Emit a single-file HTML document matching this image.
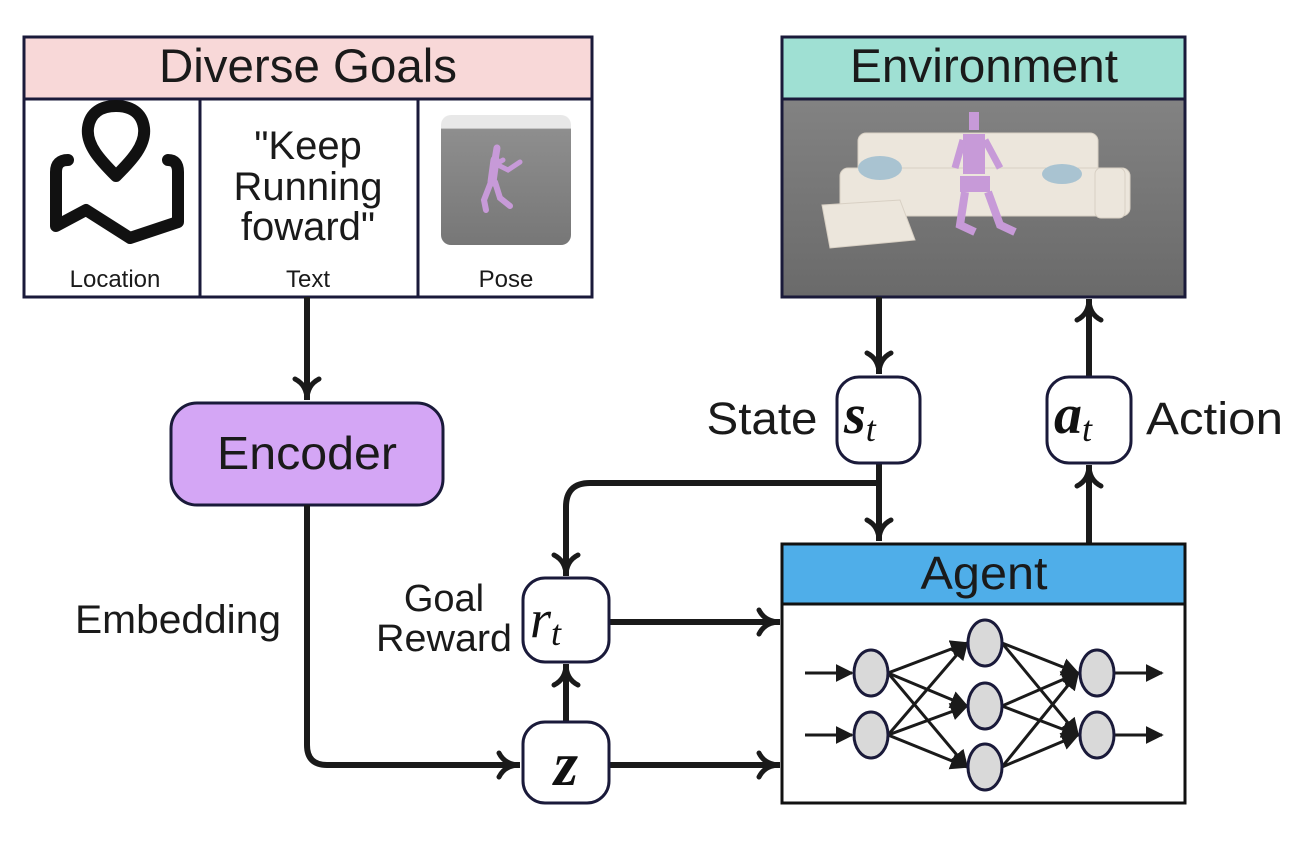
<!DOCTYPE html>
<html><head><meta charset="utf-8"><style>
body{margin:0;background:#fff;}
svg{display:block;font-family:"Liberation Sans",sans-serif;}
</style></head><body>
<svg width="1304" height="846" viewBox="0 0 1304 846" xmlns="http://www.w3.org/2000/svg">
<defs>
<marker id="ah" viewBox="0 0 30 30" refX="27" refY="15" markerWidth="30" markerHeight="30" markerUnits="userSpaceOnUse" orient="auto">
<path d="M6,3 Q12,15 27,15 Q12,15 6,27" fill="none" stroke="#1a1a1a" stroke-width="5" stroke-linecap="round"/>
</marker>
<marker id="tri" viewBox="0 0 10 10" refX="9" refY="5" markerWidth="18" markerHeight="18" markerUnits="userSpaceOnUse" orient="auto">
<path d="M0,0 L10,5 L0,10 z" fill="#1a1a1a"/>
</marker>
<linearGradient id="floor" x1="0" y1="0" x2="0" y2="1">
<stop offset="0" stop-color="#8a8a8a"/><stop offset="1" stop-color="#6a6a6a"/>
</linearGradient>
<linearGradient id="floor2" x1="0" y1="0" x2="0" y2="1">
<stop offset="0" stop-color="#e8e8e8"/><stop offset="0.1" stop-color="#e8e8e8"/><stop offset="0.11" stop-color="#8e8e8e"/><stop offset="1" stop-color="#777"/>
</linearGradient>
</defs>

<!-- Diverse Goals -->
<rect x="24" y="37" width="568" height="260" fill="#fff" stroke="#1a1a3a" stroke-width="3"/>
<rect x="25.5" y="38.5" width="565" height="60" fill="#f8d8d8"/>
<line x1="24" y1="99" x2="592" y2="99" stroke="#1a1a3a" stroke-width="3"/>
<line x1="200" y1="99" x2="200" y2="297" stroke="#1a1a3a" stroke-width="3"/>
<line x1="418" y1="99" x2="418" y2="297" stroke="#1a1a3a" stroke-width="3"/>
<text x="308" y="82" font-size="47" text-anchor="middle" fill="#1a1a1a" textLength="298" lengthAdjust="spacingAndGlyphs">Diverse Goals</text>
<text x="115" y="287" font-size="24" text-anchor="middle" fill="#1a1a1a">Location</text>
<text x="308" y="287" font-size="24" text-anchor="middle" fill="#1a1a1a">Text</text>
<text x="506" y="287" font-size="24" text-anchor="middle" fill="#1a1a1a">Pose</text>
<text font-size="40" text-anchor="middle" fill="#1a1a1a"><tspan x="308" y="159">"Keep</tspan><tspan x="308" y="200">Running</tspan><tspan x="308" y="240">foward"</tspan></text>
<!-- location icon -->
<g fill="none" stroke="#111" stroke-width="12" stroke-linecap="round" stroke-linejoin="round">
<path d="M116,176 C100,160 86,145 88,128 C90,112 102,106 116,106 C130,106 142,112 144,128 C146,145 132,160 116,176 Z"/>
<path d="M68,160 Q56,160 56,172 L56,226 L86,210 L130,238 L178,222 L178,172 Q178,160 168,160"/>
</g>
<!-- pose image -->
<rect x="441" y="115" width="130" height="130" rx="10" fill="url(#floor2)"/>
<g stroke="#c79ad8" fill="none" stroke-linecap="round">
<path d="M497,148 L495,160" stroke-width="7"/>
<path d="M495,160 L492,182" stroke-width="9"/>
<path d="M496,164 L508,170 L520,162" stroke-width="5"/>
<path d="M493,166 L503,160" stroke-width="5"/>
<path d="M491,182 L484,200 L486,210" stroke-width="6"/>
<path d="M495,182 L500,198 L510,206" stroke-width="6"/>
</g>

<!-- Environment -->
<rect x="782" y="37" width="403" height="260" fill="url(#floor)" stroke="#1a1a3a" stroke-width="3"/>
<rect x="783.5" y="38.5" width="400" height="60" fill="#9fe0d3"/>
<line x1="782" y1="99" x2="1185" y2="99" stroke="#1a1a3a" stroke-width="3"/>
<text x="984" y="82" font-size="47" text-anchor="middle" fill="#1a1a1a" textLength="268" lengthAdjust="spacingAndGlyphs">Environment</text>
<!-- sofa -->
<g fill="#ece6dc" stroke="#d8d0c4" stroke-width="1">
<rect x="858" y="133" width="240" height="55" rx="8"/>
<rect x="840" y="168" width="290" height="48" rx="8"/>
<path d="M822,205 L900,200 L915,240 L830,248 Z"/>
<rect x="1095" y="168" width="30" height="50" rx="6"/>
</g>
<ellipse cx="880" cy="168" rx="22" ry="12" fill="#a9c3d1"/>
<ellipse cx="1062" cy="174" rx="20" ry="10" fill="#a9c3d1"/>
<g fill="#c79ad8">
<rect x="969" y="112" width="10" height="18"/>
<rect x="963" y="134" width="22" height="40"/>
<rect x="960" y="176" width="30" height="16"/>
<path d="M965,192 L960,225 L975,232" stroke="#c79ad8" stroke-width="8" fill="none"/>
<path d="M988,192 L1000,225 L1015,232" stroke="#c79ad8" stroke-width="8" fill="none"/>
<path d="M963,140 L955,168" stroke="#c79ad8" stroke-width="7"/>
<path d="M985,140 L1000,168" stroke="#c79ad8" stroke-width="7"/>
</g>

<!-- Encoder -->
<rect x="171" y="403" width="272" height="102" rx="26" fill="#d4a6f5" stroke="#1a1a3a" stroke-width="3"/>
<text x="307" y="469" font-size="46" text-anchor="middle" fill="#1a1a1a" textLength="180" lengthAdjust="spacingAndGlyphs">Encoder</text>
<text x="178" y="633" font-size="40" text-anchor="middle" fill="#1a1a1a" textLength="206" lengthAdjust="spacingAndGlyphs">Embedding</text>

<!-- connectors -->
<g stroke="#1a1a1a" stroke-width="6" fill="none">
<path d="M307,297 L307,400" marker-end="url(#ah)"/>
<path d="M307,505 L307,745 Q307,765 327,765 L520,765" marker-end="url(#ah)"/>
<path d="M610,765 L780,765" marker-end="url(#ah)"/>
<path d="M610,622 L780,622" marker-end="url(#ah)"/>
<path d="M566,722 L566,664" marker-end="url(#ah)"/>
<path d="M879,297 L879,374" marker-end="url(#ah)"/>
<path d="M879,463 L879,541" marker-end="url(#ah)"/>
<path d="M879,483 L590,483 Q566,483 566,507 L566,576" marker-end="url(#ah)"/>
<path d="M1089,543 L1089,465" marker-end="url(#ah)"/>
<path d="M1089,376 L1089,299" marker-end="url(#ah)"/>
</g>

<!-- small boxes -->
<g fill="#fff" stroke="#1a1a3a" stroke-width="3">
<rect x="523" y="578" width="86" height="84" rx="22"/>
<rect x="523" y="722" width="86" height="81" rx="22"/>
<rect x="837" y="377" width="83" height="86" rx="22"/>
<rect x="1047" y="377" width="84" height="86" rx="22"/>
</g>
<g font-family="'Liberation Serif',serif" fill="#111">
<text x="530" y="637" font-size="54" font-style="italic">r<tspan font-size="36" dy="8">t</tspan></text>
<text x="566" y="785" font-size="62" font-style="italic" font-weight="bold" text-anchor="middle">z</text>
<text x="844" y="433" font-size="56" font-style="italic" font-weight="bold">s<tspan font-size="36" font-weight="normal" dy="8">t</tspan></text>
<text x="1054" y="433" font-size="56" font-style="italic" font-weight="bold">a<tspan font-size="36" font-weight="normal" dy="8">t</tspan></text>
</g>
<text x="762" y="434" font-size="45" text-anchor="middle" fill="#1a1a1a" textLength="111" lengthAdjust="spacingAndGlyphs">State</text>
<text x="1146" y="434" font-size="45" fill="#1a1a1a" textLength="137" lengthAdjust="spacingAndGlyphs">Action</text>
<text x="444" y="611" font-size="38" text-anchor="middle" fill="#1a1a1a">Goal</text>
<text x="444" y="651" font-size="38" text-anchor="middle" fill="#1a1a1a" textLength="136" lengthAdjust="spacingAndGlyphs">Reward</text>

<!-- Agent -->
<rect x="782" y="544" width="403" height="259" fill="#fff" stroke="#111" stroke-width="3"/>
<rect x="783.5" y="545.5" width="400" height="57" fill="#4faee9"/>
<line x1="782" y1="604" x2="1185" y2="604" stroke="#111" stroke-width="3"/>
<text x="984" y="589" font-size="46" text-anchor="middle" fill="#1a1a1a" textLength="127" lengthAdjust="spacingAndGlyphs">Agent</text>
<g stroke="#1a1a1a" stroke-width="3" marker-end="url(#tri)">
<line x1="805" y1="673" x2="852" y2="673"/>
<line x1="805" y1="735" x2="852" y2="735"/>
<line x1="888" y1="673" x2="967" y2="643"/>
<line x1="888" y1="673" x2="967" y2="706"/>
<line x1="888" y1="673" x2="967" y2="767"/>
<line x1="888" y1="735" x2="967" y2="643"/>
<line x1="888" y1="735" x2="967" y2="706"/>
<line x1="888" y1="735" x2="967" y2="767"/>
<line x1="1002" y1="643" x2="1078" y2="673"/>
<line x1="1002" y1="643" x2="1078" y2="735"/>
<line x1="1002" y1="706" x2="1078" y2="673"/>
<line x1="1002" y1="706" x2="1078" y2="735"/>
<line x1="1002" y1="767" x2="1078" y2="673"/>
<line x1="1002" y1="767" x2="1078" y2="735"/>
<line x1="1115" y1="673" x2="1162" y2="673"/>
<line x1="1115" y1="735" x2="1162" y2="735"/>
</g>
<g fill="#d9d9d9" stroke="#1a1a3a" stroke-width="3">
<ellipse cx="871" cy="673" rx="17" ry="23"/>
<ellipse cx="871" cy="735" rx="17" ry="23"/>
<ellipse cx="985" cy="643" rx="17" ry="23"/>
<ellipse cx="985" cy="706" rx="17" ry="23"/>
<ellipse cx="985" cy="767" rx="17" ry="23"/>
<ellipse cx="1097" cy="673" rx="17" ry="23"/>
<ellipse cx="1097" cy="735" rx="17" ry="23"/>
</g>
</svg>
</body></html>
